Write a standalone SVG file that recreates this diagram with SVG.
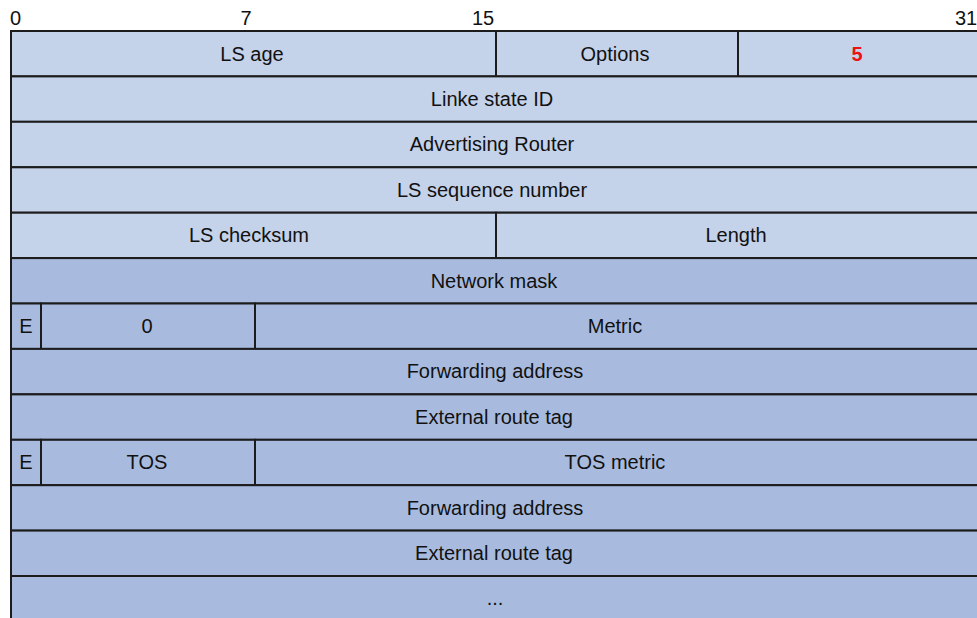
<svg xmlns="http://www.w3.org/2000/svg" width="977" height="618" viewBox="0 0 977 618">
<style>
.l{fill:#c4d2ea;stroke:#1c1c1c;stroke-width:2}
.d{fill:#a8bbdf;stroke:#1c1c1c;stroke-width:2}
text{font-family:"Liberation Sans",Arial,sans-serif;font-size:20px;fill:#111;text-anchor:middle}
.h{text-anchor:start}
.r{fill:#ee1111;font-weight:bold}
</style>
<rect width="977" height="618" fill="#ffffff"/>
<g id="header">
<text class="h" x="10" y="25">0</text>
<text x="246" y="25">7</text>
<text x="483" y="25">15</text>
<text x="966" y="25">31</text>
</g>
<g id="row0">
<g id="ls-age"><rect class="l" x="11" y="31" width="485" height="45.4"/><text x="252" y="61">LS age</text></g>
<g id="options"><rect class="l" x="496" y="31" width="242" height="45.4"/><text x="615" y="61">Options</text></g>
<g id="type"><rect class="l" x="738" y="31" width="242" height="45.4"/><text class="r" x="857" y="61">5</text></g>
</g>
<g id="link-state-id"><rect class="l" x="11" y="76.4" width="969" height="45.4"/><text x="492" y="106">Linke state ID</text></g>
<g id="advertising-router"><rect class="l" x="11" y="121.8" width="969" height="45.4"/><text x="492" y="151">Advertising Router</text></g>
<g id="ls-seq"><rect class="l" x="11" y="167.3" width="969" height="45.4"/><text x="492" y="197">LS sequence number</text></g>
<g id="row4">
<g id="ls-checksum"><rect class="l" x="11" y="212.7" width="485" height="45.4"/><text x="249" y="242">LS checksum</text></g>
<g id="length"><rect class="l" x="496" y="212.7" width="484" height="45.4"/><text x="736" y="242">Length</text></g>
</g>
<g id="network-mask"><rect class="d" x="11" y="258.1" width="969" height="45.4"/><text x="494" y="288">Network mask</text></g>
<g id="row6">
<g id="e1"><rect class="d" x="11" y="303.5" width="30" height="45.4"/><text x="26" y="333">E</text></g>
<g id="zero"><rect class="d" x="41" y="303.5" width="214" height="45.4"/><text x="147" y="333">0</text></g>
<g id="metric"><rect class="d" x="255" y="303.5" width="725" height="45.4"/><text x="615" y="333">Metric</text></g>
</g>
<g id="fwd1"><rect class="d" x="11" y="348.9" width="969" height="45.4"/><text x="495" y="378">Forwarding address</text></g>
<g id="tag1"><rect class="d" x="11" y="394.4" width="969" height="45.4"/><text x="494" y="424">External route tag</text></g>
<g id="row9">
<g id="e2"><rect class="d" x="11" y="439.8" width="30" height="45.4"/><text x="26" y="469">E</text></g>
<g id="tos"><rect class="d" x="41" y="439.8" width="214" height="45.4"/><text x="147" y="469">TOS</text></g>
<g id="tos-metric"><rect class="d" x="255" y="439.8" width="725" height="45.4"/><text x="615" y="469">TOS metric</text></g>
</g>
<g id="fwd2"><rect class="d" x="11" y="485.2" width="969" height="45.4"/><text x="495" y="515">Forwarding address</text></g>
<g id="tag2"><rect class="d" x="11" y="530.6" width="969" height="45.4"/><text x="494" y="560">External route tag</text></g>
<g id="more"><rect class="d" x="11" y="576" width="969" height="60"/><text x="495" y="605">...</text></g>
<g id="connectors"/>
</svg>
